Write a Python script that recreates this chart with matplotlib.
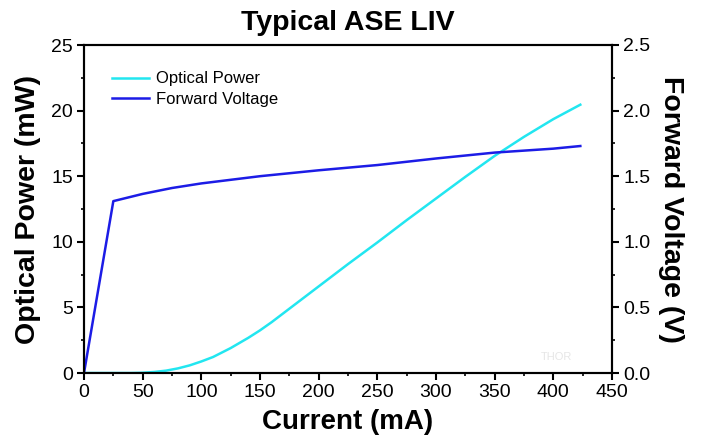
import matplotlib
matplotlib.use("Agg")
import matplotlib.pyplot as plt
from matplotlib.ticker import MultipleLocator

# Data
current_p = [0, 25, 40, 50, 60, 70, 80, 90, 100, 110, 125, 140, 150, 160, 175,
             200, 225, 250, 275, 300, 325, 350, 375, 400, 423]
optical_power = [0, 0, 0, 0.02, 0.08, 0.18, 0.35, 0.58, 0.88, 1.22, 1.9, 2.68,
                 3.25, 3.88, 4.9, 6.6, 8.3, 9.95, 11.65, 13.3, 14.95, 16.55,
                 18.0, 19.35, 20.45]
current_v = [0, 25, 50, 75, 100, 150, 200, 250, 300, 350, 400, 423]
forward_voltage = [0, 1.31, 1.365, 1.41, 1.445, 1.50, 1.545, 1.585, 1.635,
                   1.68, 1.71, 1.73]
x_ticks = [0, 50, 100, 150, 200, 250, 300, 350, 400, 450]
p_ticks = [0, 5, 10, 15, 20, 25]
v_ticks = [0.0, 0.5, 1.0, 1.5, 2.0, 2.5]

FONT = ['Liberation Sans', 'DejaVu Sans']

CYAN = '#22e6f0'
BLUE = '#1c1ce6'

fig = plt.figure(figsize=(7.13, 4.42), dpi=100)
ax = fig.add_axes([84/713, 1-373/442, 528/713, 328/442])
ax2 = ax.twinx()

l1, = ax.plot(current_p, optical_power, color=CYAN, lw=1.8, label='Optical Power')
l2, = ax2.plot(current_v, forward_voltage, color=BLUE, lw=1.8, label='Forward Voltage')

ax.set_xlim(0, 450)
ax.set_ylim(0, 25)
ax2.set_ylim(0, 2.5)
ax.set_xticks(x_ticks)
ax.set_yticks(p_ticks)
ax2.set_yticks(v_ticks)
ax.set_xticklabels([str(v) for v in x_ticks], family=FONT, fontsize=14)
ax.set_yticklabels([str(v) for v in p_ticks], family=FONT, fontsize=14)
ax2.set_yticklabels([f'{v:.1f}' for v in v_ticks], family=FONT, fontsize=14)
ax.xaxis.set_minor_locator(MultipleLocator(25))
ax.yaxis.set_minor_locator(MultipleLocator(2.5))
ax2.yaxis.set_minor_locator(MultipleLocator(0.25))

for a in (ax, ax2):
    for s in a.spines.values():
        s.set_linewidth(1.5)
        s.set_color('black')
    a.tick_params(which='major', direction='out', length=5, width=1.5, pad=3)
    a.tick_params(which='minor', direction='out', length=2.5, width=1.2)

ax.set_xlabel('Current (mA)', family=FONT, fontsize=20, fontweight='bold', labelpad=6)
ax.set_ylabel('Optical Power (mW)', family=FONT, fontsize=20.5, fontweight='bold', labelpad=7)
ax2.set_ylabel('Forward Voltage (V)', family=FONT, fontsize=20.5, fontweight='bold',
               rotation=-90, labelpad=24)
ax.set_title('Typical ASE LIV', family=FONT, fontsize=20.5, fontweight='bold', pad=11)

leg = ax.legend(handles=[l1, l2], loc='upper left', frameon=False,
                prop={'family': FONT, 'size': 12}, handlelength=2.2,
                handletextpad=0.4, bbox_to_anchor=(0.025, 0.965), labelspacing=0.35)

ax.text(0.895, 0.05, 'THOR', transform=ax.transAxes, color='#e6e6e6',
        fontsize=8, family=FONT, ha='center', va='center')

fig.savefig('out.png', dpi=100)
